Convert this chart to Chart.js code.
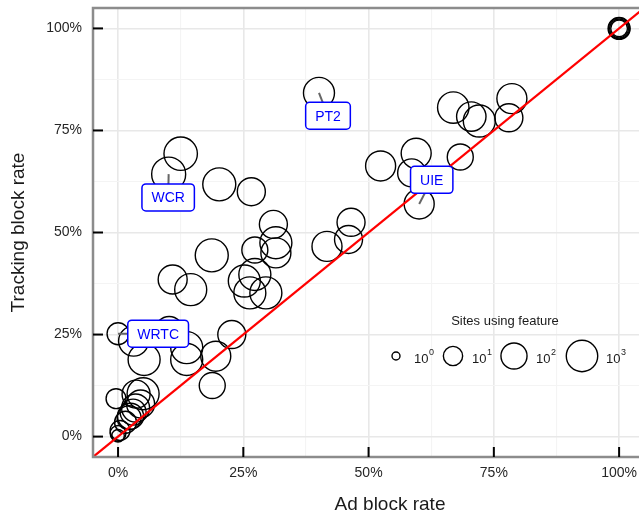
<!DOCTYPE html>
<html><head><meta charset="utf-8">
<script src="https://cdn.jsdelivr.net/npm/chart.js@4"></script>
<style>html,body{margin:0;padding:0;background:#fff;overflow:hidden;width:639px;height:516px}</style>
</head><body>
<canvas id="c" width="687" height="516" style="display:block"></canvas>
<script>
// ---- data ----
const adBlockRate = [40.1,12.5,10.1,20.2,26.6,31.0,31.5,27.3,31.5,18.7,10.9,14.5,25.2,27.3,26.3,29.5,
  46.5,46.0,41.7,60.1,52.4,58.6,59.5,68.3,66.9,70.5,72.1,78.6,78.0,
  100,100,100,100,
  0,3.1,5.2,10.2,13.7,13.7,19.5,22.7,18.8,
  0,0,0.4,1.5,2.2,2.5,3.0,3.5,4.5,5.0,-0.4,3.6];
const trackingBlockRate = [84.2,69.3,64.3,61.8,60.0,52.0,47.5,45.7,45.0,44.4,38.5,36.0,38.1,39.7,35.2,35.2,
  52.5,48.3,46.6,57.0,66.3,64.6,69.4,68.5,80.6,78.4,77.3,82.8,78.1,
  100,100,100,100,
  25.2,23.4,18.9,26.0,21.8,18.9,19.7,25.0,12.5,
  0.2,0.8,1.5,3.5,4.6,5.0,6.0,7.0,8.0,10.5,9.3,10.4];
const sitesUsingFeature = [817,2594,3508,2128,218,218,1309,97,518,2128,333,1309,1309,1309,1309,1309,
  218,218,518,518,518,218,518,97,984,398,1309,518,218,
  5,9,17,23,
  23,518,1309,218,1309,1309,518,218,97,
  2,4,12,23,46,97,97,218,218,1309,12,218];
const labelText = ['WCR','PT2','UIE','WRTC'];
const labelPointIndex = [2,0,19,33];
const labelX = [10.0,41.9,62.6,8.0];
const labelY = [58.6,78.6,62.9,25.2];
const majorTicks = [0,25,50,75,100];
const minorTicks = [12.5,37.5,62.5,87.5];
const legendBreaks = [1,10,100,1000];
const legendExponents = ['0','1','2','3'];
const diagonal = [-5,110];

const FONT = '"Liberation Sans", Arial, Helvetica, sans-serif';
function sizeFor(n){ return Math.sqrt(16 + 77*Math.log10(n)); }

const points = adBlockRate.map((x,i)=>({x:x, y:trackingBlockRate[i], r:sizeFor(sitesUsingFeature[i])}));

function setTicks(scale){
  scale.ticks = majorTicks.concat(minorTicks).sort((a,b)=>a-b).map(v=>({value:v}));
}
const isMajor = v => majorTicks.indexOf(v) >= 0;

const framePlugin = {
  id:'frame',
  afterDatasetsDraw(chart){
    const {ctx, chartArea:a, scales:{x,y}} = chart;
    ctx.save();
    ctx.strokeStyle = '#8c8c8c'; ctx.lineWidth = 2.5;
    ctx.strokeRect(a.left, a.top, a.right-a.left, a.bottom-a.top);
    ctx.strokeStyle = '#000'; ctx.lineWidth = 2;
    majorTicks.forEach(v=>{
      const px = x.getPixelForValue(v);
      ctx.beginPath(); ctx.moveTo(px, a.bottom); ctx.lineTo(px, a.bottom-10); ctx.stroke();
      const py = y.getPixelForValue(v);
      ctx.beginPath(); ctx.moveTo(a.left, py); ctx.lineTo(a.left+10, py); ctx.stroke();
    });
    // labels
    ctx.font = '14px ' + FONT;
    labelText.forEach((t,i)=>{
      const p = labelPointIndex[i];
      const px = x.getPixelForValue(adBlockRate[p]), py = y.getPixelForValue(trackingBlockRate[p]);
      const cx = x.getPixelForValue(labelX[i]), cy = y.getPixelForValue(labelY[i]);
      ctx.strokeStyle = '#666'; ctx.lineWidth = 2;
      ctx.beginPath(); ctx.moveTo(px,py); ctx.lineTo(cx,cy); ctx.stroke();
      const w = ctx.measureText(t).width + 19, h = 27;
      ctx.beginPath();
      ctx.roundRect(cx-w/2, cy-h/2, w, h, 4);
      ctx.fillStyle = '#fff'; ctx.fill();
      ctx.strokeStyle = '#0000ff'; ctx.lineWidth = 1.5; ctx.stroke();
      ctx.fillStyle = '#0000ff'; ctx.textAlign = 'center'; ctx.textBaseline = 'middle';
      ctx.fillText(t, cx, cy+1);
    });
    ctx.restore();
  }
};

const legendPlugin = {
  id:'sizeLegend',
  afterDraw(chart){
    const ctx = chart.ctx;
    const cxs = [396,453,514,582], lxs = [414,472,536,606], cy = 356;
    ctx.save();
    ctx.fillStyle = '#1a1a1a';
    ctx.font = '13px ' + FONT; ctx.textAlign = 'center'; ctx.textBaseline = 'middle';
    ctx.fillText('Sites using feature', 505, 321);
    legendBreaks.forEach((n,i)=>{
      ctx.beginPath(); ctx.arc(cxs[i], cy, sizeFor(n), 0, Math.PI*2);
      ctx.strokeStyle = '#000'; ctx.lineWidth = 1.4; ctx.stroke();
      ctx.textAlign = 'left'; ctx.textBaseline = 'alphabetic';
      ctx.font = '13px ' + FONT;
      ctx.fillText('10', lxs[i], 363);
      const w = ctx.measureText('10').width;
      ctx.font = '9px ' + FONT;
      ctx.fillText(legendExponents[i], lxs[i]+w+0.5, 355);
    });
    ctx.restore();
  }
};

const gridOpts = {
  color: c => isMajor(c.tick.value) ? '#e8e8e8' : '#f4f4f4',
  lineWidth: c => isMajor(c.tick.value) ? 1.6 : 1.1,
  drawTicks: false
};
const tickFont = {family: FONT, size: 14};

new Chart(document.getElementById('c'), {
  type:'bubble',
  data:{datasets:[
    {type:'line', data: diagonal.map(v=>({x:v,y:v})), borderColor:'#ff0000', borderWidth:2.2, pointRadius:0, order:0},
    {type:'bubble', data: points, backgroundColor:'rgba(0,0,0,0)', borderColor:'#000', borderWidth:1.4, order:1}
  ]},
  options:{
    responsive:false, animation:false, events:[],
    plugins:{legend:{display:false}, tooltip:{enabled:false}},
    layout:{autoPadding:false, padding:{top:8,right:0,left:0,bottom:0}},
    scales:{
      x:{type:'linear', min:-5, max:113.55,
        afterBuildTicks:setTicks,
        afterFit: s => { s.height = 59; s.paddingLeft = 0; s.paddingRight = 0; },
        grid:gridOpts, border:{display:false},
        ticks:{callback: v => isMajor(v) ? v + '%' : '', font:tickFont, color:'#262626', padding:8, maxRotation:0, autoSkip:false},
        title:{display:true, text:'Ad block rate', font:{family:FONT, size:19}, color:'#1a1a1a', padding:{top:0,bottom:0}}
      },
      y:{type:'linear', min:-5, max:105,
        afterBuildTicks:setTicks,
        afterFit: s => { s.width = 93; s.paddingTop = 0; s.paddingBottom = 0; },
        grid:gridOpts, border:{display:false},
        ticks:{callback: v => isMajor(v) ? v + '%' : '', font:tickFont, color:'#262626', padding:11, autoSkip:false},
        title:{display:true, text:'Tracking block rate', font:{family:FONT, size:19}, color:'#1a1a1a', padding:{top:7,bottom:0}}
      }
    }
  },
  plugins:[framePlugin, legendPlugin]
});
</script>
</body></html>
